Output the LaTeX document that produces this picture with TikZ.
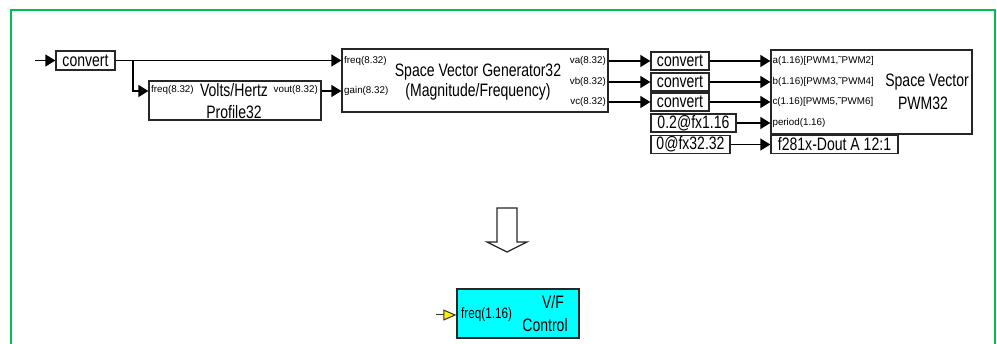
\documentclass[tikz,border=0pt]{standalone}
\usepackage{fontspec}
\setmainfont{Liberation Sans}
\newfontfamily\narf[FakeStretch=0.78]{Liberation Sans}
\usetikzlibrary{arrows.meta}
\definecolor{framegreen}{RGB}{0,190,80}
\definecolor{vfcyan}{RGB}{0,255,255}
\definecolor{portyellow}{RGB}{255,240,0}
\begin{document}
\begin{tikzpicture}[x=1pt,y=-1pt,
  blk/.style={draw=black!85, line width=1.3pt, inner sep=0pt, fill=white, font=\narf\fontsize{18}{18}\selectfont},
  lbl/.style={inner sep=0pt, font=\narf\fontsize{18}{18}\selectfont},
  port/.style={inner sep=0pt, font=\fontsize{9.8}{9.8}\selectfont},
  arr/.style={line width=1.3pt, -{Triangle[length=10pt,width=12pt]}},
]
\useasboundingbox (0,0) rectangle (997,344);
% frame
\draw[framegreen, line width=2pt] (11,344) -- (11,10) -- (995,10) -- (995,344);

% blocks
\node[blk, minimum width=59pt, minimum height=19pt] (cv0) at (85.5,60.5) {convert};
\node[blk, minimum width=172pt, minimum height=39pt] (VH) at (235,100.5) {};
\node[blk, minimum width=266pt, minimum height=63pt] (SVG) at (475,80.5) {};
\node[blk, minimum width=58pt, minimum height=18pt] (cv1) at (680,61) {convert};
\node[blk, minimum width=58pt, minimum height=18pt] (cv2) at (680,82) {convert};
\node[blk, minimum width=58pt, minimum height=18pt] (cv3) at (680,102) {convert};
\node[blk, minimum width=85pt, minimum height=18pt] (c02) at (693.5,123) {0.2@fx1.16};
\node[blk, minimum width=79pt, minimum height=18pt] (c00) at (690.5,144.5) {0@fx32.32};
\node[blk, minimum width=201pt, minimum height=84pt] (PWM) at (871.5,92) {};
\node[blk, minimum width=127pt, minimum height=18pt] (f281) at (834.5,144.5) {f281x-Dout A 12:1};
\node[blk, fill=vfcyan, minimum width=122pt, minimum height=49pt] (VF) at (518,313.5) {};

% texts in Volts/Hertz block
\node[port, anchor=west] (vhf) at (151,90) {freq(8.32)};
\node[lbl] (vht) at (234,90) {Volts/Hertz};
\node[port, anchor=east] (vhv) at (318,90) {vout(8.32)};
\node[lbl] (vhp) at (234,112) {Profile32};

% texts in Space Vector Generator block
\node[port, anchor=west] (sgf) at (344,60.5) {freq(8.32)};
\node[port, anchor=west] (sgg) at (344,91) {gain(8.32)};
\node[port, anchor=east] (sga) at (606,61) {va(8.32)};
\node[port, anchor=east] (sgb) at (606,82) {vb(8.32)};
\node[port, anchor=east] (sgc) at (606,102) {vc(8.32)};
\node[lbl] (sgt1) at (478,72) {Space Vector Generator32};
\node[lbl] (sgt2) at (478,92) {(Magnitude/Frequency)};

% texts in Space Vector PWM block
\node[port, anchor=west] (pa) at ([xshift=2pt]PWM.west |- cv1) {a(1.16)[PWM1,˜PWM2]};
\node[port, anchor=west] (pb) at ([xshift=2pt]PWM.west |- cv2) {b(1.16)[PWM3,˜PWM4]};
\node[port, anchor=west] (pc) at ([xshift=2pt]PWM.west |- cv3) {c(1.16)[PWM5,˜PWM6]};
\node[port, anchor=west] (pp) at ([xshift=2pt]PWM.west |- c02) {period(1.16)};
\node[lbl, anchor=east] (pt1) at (969,82) {Space Vector};
\node[lbl] (pt2) at (923,103) {PWM32};

% texts in V/F block
\node[lbl, anchor=west, font=\narf\fontsize{15}{15}\selectfont] (vff) at (461,315) {freq(1.16)};
\node[lbl] (vft1) at (553,302) {V/F};
\node[lbl] (vft2) at (545,325) {Control};

% connectors
\coordinate (in0) at (35,60.5);
\coordinate (br) at (133,60.5);
\coordinate (gin) at ([yshift=-10.5pt]SVG.west);
\draw[arr] (in0) -- (cv0.west);
\draw[arr] (cv0.east) -- (cv0.east -| SVG.west);
\draw[arr] (br) |- (VH.west |- gin);
\draw[arr] (VH.east |- gin) -- (gin);
\draw[arr] (SVG.east |- cv1) -- (cv1.west);
\draw[arr] (SVG.east |- cv2) -- (cv2.west);
\draw[arr] (SVG.east |- cv3) -- (cv3.west);
\draw[arr] (cv1.east) -- (cv1.east -| PWM.west);
\draw[arr] (cv2.east) -- (cv2.east -| PWM.west);
\draw[arr] (cv3.east) -- (cv3.east -| PWM.west);
\draw[arr] (c02.east) -- (c02.east -| PWM.west);
\draw[arr] (c00.east) -- (f281.west);

% hollow down arrow
\draw[line width=1.3pt, draw=black!85, fill=white]
  (497,208) -- (517,208) -- (517,242) -- (527,242) -- (507,252) -- (487,242) -- (497,242) -- cycle;

% V/F input port
\coordinate (vfp) at ([yshift=-1.5pt]VF.west);
\draw[line width=1pt, draw=black!80, -{Triangle[length=13pt,width=11pt,fill=portyellow]}] ([xshift=-20pt]vfp) -- (vfp);
\end{tikzpicture}
\end{document}
